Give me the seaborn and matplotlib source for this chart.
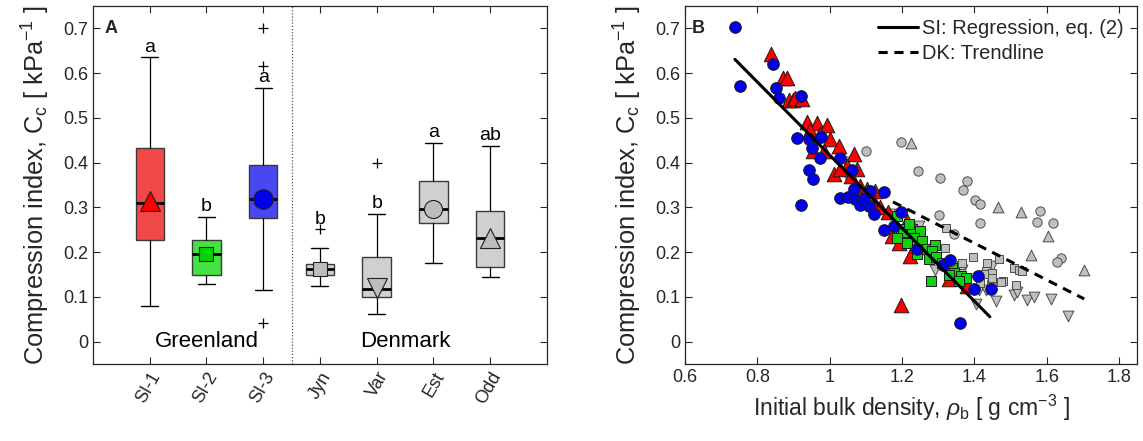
import numpy as np
import matplotlib
matplotlib.use('Agg')
import matplotlib.pyplot as plt
import seaborn as sns

# ---- panel A: box summaries ----
groups = ['SI-1', 'SI-2', 'SI-3', 'Jyn', 'Var', 'Est', 'Odd']
whislo = [0.080, 0.128, 0.116, 0.125, 0.062, 0.176, 0.144]
q1 = [0.227, 0.149, 0.276, 0.148, 0.099, 0.264, 0.166]
med = [0.310, 0.196, 0.318, 0.162, 0.118, 0.297, 0.231]
q3 = [0.432, 0.227, 0.394, 0.173, 0.190, 0.360, 0.293]
whishi = [0.635, 0.278, 0.567, 0.209, 0.286, 0.444, 0.438]
means = [0.315, 0.196, 0.319, 0.162, 0.120, 0.297, 0.232]
fliers = [[], [], [0.700, 0.617, 0.041], [0.251], [0.399], [], []]
letters = ['a', 'b', 'a', 'b', 'b', 'a', 'ab']
letter_base = [0.635, 0.278, 0.567, 0.251, 0.286, 0.444, 0.438]

# ---- panel B: scatter points ----
si1_x = [0.837, 0.870, 0.882, 0.888, 0.900, 0.905, 0.923, 0.937, 0.965, 0.992,
         0.946, 0.974, 1.002, 1.025, 0.955, 0.985, 1.066, 1.048, 1.011, 1.029,
         1.075, 1.060, 1.085, 1.103, 1.126, 1.122, 1.140, 1.160, 1.214, 1.173,
         1.191, 1.223, 1.280, 1.330, 1.345, 1.380, 1.198]
si1_y = [0.643, 0.590, 0.588, 0.541, 0.539, 0.545, 0.542, 0.491, 0.489, 0.483,
         0.472, 0.464, 0.453, 0.438, 0.427, 0.427, 0.420, 0.393, 0.375, 0.386,
         0.386, 0.370, 0.348, 0.341, 0.337, 0.311, 0.300, 0.290, 0.270, 0.236,
         0.221, 0.191, 0.210, 0.139, 0.160, 0.124, 0.082]

si2_x = [1.186, 1.196, 1.204, 1.228, 1.251, 1.232, 1.214, 1.242, 1.256, 1.269,
         1.292, 1.283, 1.242, 1.274, 1.295, 1.311, 1.339, 1.343, 1.362, 1.376,
         1.357, 1.330, 1.279, 1.186, 1.220]
si2_y = [0.281, 0.251, 0.244, 0.251, 0.247, 0.232, 0.221, 0.213, 0.225, 0.206,
         0.217, 0.202, 0.195, 0.184, 0.190, 0.176, 0.165, 0.154, 0.146, 0.142,
         0.135, 0.150, 0.135, 0.232, 0.262]

si3_x = [0.737, 0.752, 0.842, 0.851, 0.860, 0.921, 0.909, 0.942, 0.976, 0.951,
         0.972, 1.028, 0.944, 0.953, 1.062, 0.920, 1.029, 1.052, 1.070, 1.092,
         1.112, 1.151, 1.068, 1.085, 1.108, 1.122, 1.094, 1.150, 1.178, 1.198,
         1.242, 1.314, 1.332, 1.399, 1.410, 1.445, 1.360]
si3_y = [0.703, 0.571, 0.620, 0.566, 0.545, 0.548, 0.455, 0.453, 0.457, 0.432,
         0.410, 0.410, 0.384, 0.363, 0.384, 0.305, 0.322, 0.324, 0.318, 0.318,
         0.337, 0.335, 0.341, 0.305, 0.303, 0.285, 0.318, 0.249, 0.258, 0.289,
         0.206, 0.172, 0.182, 0.118, 0.146, 0.118, 0.041]

jyn_x = [1.323, 1.320, 1.362, 1.366, 1.396, 1.434, 1.468, 1.431, 1.450, 1.478,
         1.510, 1.524, 1.533, 1.514, 1.417, 1.426, 1.450, 1.473]
jyn_y = [0.253, 0.210, 0.172, 0.176, 0.189, 0.176, 0.184, 0.157, 0.154, 0.135,
         0.165, 0.161, 0.157, 0.127, 0.131, 0.151, 0.142, 0.133]

var_x = [1.046, 1.048, 1.168, 1.200, 1.246, 1.292, 1.366, 1.413, 1.450, 1.459,
         1.405, 1.431, 1.450, 1.510, 1.519, 1.546, 1.565, 1.611, 1.659]
var_y = [0.401, 0.371, 0.285, 0.217, 0.259, 0.161, 0.161, 0.116, 0.120, 0.090,
         0.085, 0.116, 0.169, 0.105, 0.112, 0.094, 0.100, 0.096, 0.058]

est_x = [1.196, 1.100, 1.245, 1.304, 1.380, 1.369, 1.401, 1.417, 1.583, 1.417,
         1.302, 1.343, 1.574, 1.618, 1.640, 1.630]
est_y = [0.446, 0.427, 0.382, 0.366, 0.358, 0.339, 0.316, 0.307, 0.292, 0.266,
         0.283, 0.240, 0.267, 0.265, 0.187, 0.178]

odd_x = [1.226, 1.465, 1.528, 1.605, 1.556, 1.703, 1.450]
odd_y = [0.444, 0.300, 0.289, 0.235, 0.193, 0.161, 0.146]

# fitted lines: Cc = a + b * rho over the shown range
si_fit = (1.233, -0.816)
si_range = [0.738, 1.443]
dk_fit = (0.794, -0.410)
dk_range = [1.175, 1.704]

# ---- style ----
sns.set_theme(style='ticks')
plt.rcParams['font.family'] = ['Liberation Sans', 'DejaVu Sans']
plt.rcParams['mathtext.fontset'] = 'custom'
plt.rcParams['mathtext.rm'] = 'Liberation Sans'
plt.rcParams['mathtext.it'] = 'Liberation Sans:italic'
plt.rcParams['axes.edgecolor'] = '#262626'
plt.rcParams['xtick.color'] = '#262626'
plt.rcParams['ytick.color'] = '#262626'

TXT = '#262626'
box_face = ['#f34848', '#44e244', '#4848f2', '#d0d0d0', '#d0d0d0', '#d0d0d0', '#d0d0d0']
mean_col = ['#ff0000', '#00d400', '#0000f0', '#bdbdbd', '#bdbdbd', '#bdbdbd', '#bdbdbd']
mean_mk = ['^', 's', 'o', 's', 'v', 'o', '^']
mean_sz = [15, 10, 14, 10, 15, 13, 15]

fig = plt.figure(figsize=(11.43, 4.41), dpi=100)
axA = fig.add_axes([0.0814, 0.1746, 0.397, 0.8118])
axB = fig.add_axes([0.5993, 0.1746, 0.3955, 0.8118])

# ---- panel A ----
pos = np.arange(1, len(groups) + 1)
stats = []
for i, g in enumerate(groups):
    stats.append(dict(label=g, whislo=whislo[i], q1=q1[i], med=med[i], q3=q3[i],
                      whishi=whishi[i], fliers=fliers[i]))
bp = axA.bxp(stats, positions=pos, widths=0.5, patch_artist=True, showfliers=True,
             boxprops=dict(edgecolor='#3a3a3a', linewidth=1.0),
             whiskerprops=dict(color='black', linewidth=0.9),
             capprops=dict(color='black', linewidth=1.0),
             medianprops=dict(color='black', linewidth=2.0),
             flierprops=dict(marker='+', markeredgecolor='black', markersize=7,
                             markeredgewidth=0.9), capwidths=0.3)
for patch, c in zip(bp['boxes'], box_face):
    patch.set_facecolor(c)
    patch.set_zorder(2)

for i in range(len(groups)):
    axA.plot(pos[i], means[i], marker=mean_mk[i], markersize=mean_sz[i],
             markerfacecolor=mean_col[i], markeredgecolor='#202020',
             markeredgewidth=0.8, linestyle='none', zorder=5)
    axA.text(pos[i], letter_base[i] + 0.004, letters[i], ha='center', va='bottom',
             fontsize=14, color='black')

axA.axvline(3.5, color='#555555', linestyle=(0, (1, 1.5)), linewidth=0.9)
axA.text(2.0, 0.0, 'Greenland', ha='center', va='center', fontsize=16, color='black')
axA.text(5.5, 0.0, 'Denmark', ha='center', va='center', fontsize=16, color='black')
axA.text(0.2, 0.70, 'A', fontsize=13, fontweight='bold', va='center', ha='left')

axA.set_xlim(0, 8)
axA.set_ylim(-0.05, 0.75)
axA.set_xticks(pos)
axA.set_xticklabels(groups, rotation=60, ha='right', rotation_mode='anchor', fontsize=13)
axA.set_yticks(np.arange(0, 0.71, 0.1))
axA.set_yticklabels(['0', '0.1', '0.2', '0.3', '0.4', '0.5', '0.6', '0.7'], fontsize=13)
axA.set_ylabel(r'Compression index, C$_{\rm c}$ [ kPa$^{-1}$ ]', fontsize=18.3, color=TXT,
               labelpad=8)

# ---- panel B ----
sns.lineplot(x=si_range, y=[si_fit[0] + si_fit[1] * v for v in si_range], ax=axB,
             color='black', linewidth=2.2, label='SI: Regression, eq. (2)', zorder=6)
sns.lineplot(x=dk_range, y=[dk_fit[0] + dk_fit[1] * v for v in dk_range], ax=axB,
             color='black', linewidth=2.2, linestyle=(0, (3, 2.2)),
             label='DK: Trendline', zorder=6)

gray_kw = dict(color='#bfbfbf', edgecolor='#4d4d4d', linewidth=0.7, legend=False, ax=axB)
sns.scatterplot(x=est_x, y=est_y, marker='o', s=45, zorder=2, **gray_kw)
sns.scatterplot(x=odd_x, y=odd_y, marker='^', s=60, zorder=2, **gray_kw)
sns.scatterplot(x=var_x, y=var_y, marker='v', s=60, zorder=2, **gray_kw)
sns.scatterplot(x=jyn_x, y=jyn_y, marker='s', s=40, zorder=2, **gray_kw)
sns.scatterplot(x=si1_x, y=si1_y, marker='^', s=110, color='#ff0000', edgecolor='#1a1a1a',
                linewidth=0.7, legend=False, ax=axB, zorder=3)
sns.scatterplot(x=si2_x, y=si2_y, marker='s', s=55, color='#10d010', edgecolor='#1a1a1a',
                linewidth=0.7, legend=False, ax=axB, zorder=4)
sns.scatterplot(x=si3_x, y=si3_y, marker='o', s=70, color='#0000ee', edgecolor='#1a1a1a',
                linewidth=0.7, legend=False, ax=axB, zorder=5)

axB.text(0.62, 0.70, 'B', fontsize=13, fontweight='bold', va='center', ha='left')
axB.set_xlim(0.6, 1.85)
axB.set_ylim(-0.05, 0.75)
axB.set_xticks(np.arange(0.6, 1.81, 0.2))
axB.set_xticklabels(['0.6', '0.8', '1', '1.2', '1.4', '1.6', '1.8'], fontsize=13)
axB.set_yticks(np.arange(0, 0.71, 0.1))
axB.set_yticklabels(['0', '0.1', '0.2', '0.3', '0.4', '0.5', '0.6', '0.7'], fontsize=13)
axB.set_ylabel(r'Compression index, C$_{\rm c}$ [ kPa$^{-1}$ ]', fontsize=18.3, color=TXT,
               labelpad=8)
axB.set_xlabel(r'Initial bulk density, $\it{\rho}_{\rm b}$ [ g cm$^{-3}$ ]', fontsize=16.5,
               color=TXT, labelpad=5)
axB.legend(loc='upper right', frameon=False, fontsize=14.5, handlelength=2.0,
           borderaxespad=0.25, labelspacing=0.3, handletextpad=0.2)

for ax in (axA, axB):
    ax.tick_params(direction='in', top=True, right=True, length=5, width=0.8,
                   colors=TXT, labelcolor=TXT)
    for sp in ax.spines.values():
        sp.set_visible(True)
        sp.set_linewidth(0.9)
        sp.set_color('#262626')

fig.savefig('out.png', dpi=100)
